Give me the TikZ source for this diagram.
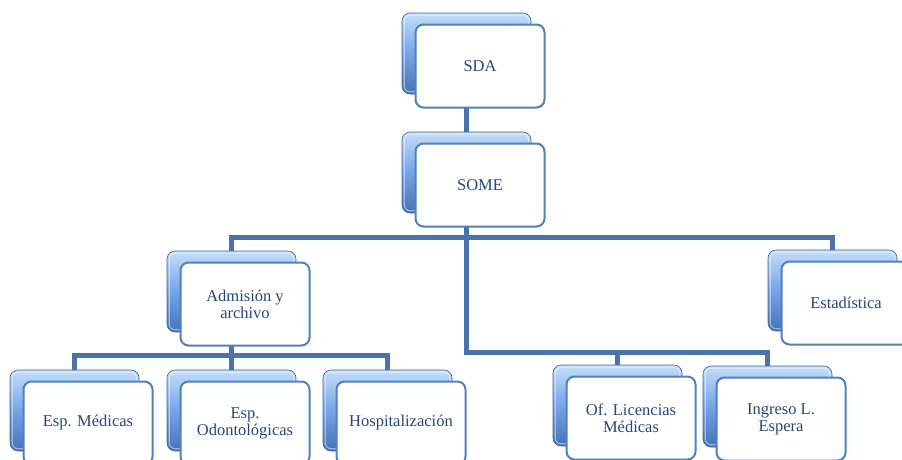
\documentclass[tikz,border=0pt]{standalone}
\usepackage{fontspec}
\setmainfont{Liberation Serif}
\usetikzlibrary{calc,backgrounds}
\definecolor{linkblue}{RGB}{74,114,172}
\definecolor{frameblue}{RGB}{79,129,189}
\definecolor{textblue}{RGB}{40,70,120}
\definecolor{bevtop}{RGB}{196,222,250}
\definecolor{bevmid}{RGB}{118,164,230}
\definecolor{bevbot}{RGB}{70,114,184}
\begin{document}
\begin{tikzpicture}[x=1pt,y=-1pt,
  backbox/.style={rectangle, rounded corners=8pt, minimum width=129pt,
    minimum height=81pt, inner sep=0pt, draw=bevbot!85!black, line width=0.6pt,
    top color=bevtop, bottom color=bevbot, middle color=bevmid},
  bevel/.style={draw=white, draw opacity=0.45, line width=1.2pt, rounded corners=6pt},
  frontbox/.style={rectangle, rounded corners=8pt, minimum width=129pt,
    minimum height=83pt, inner sep=0pt, fill=white, draw=frameblue,
    line width=2pt, text=textblue, align=center,
    font=\fontsize{16.5}{17}\selectfont},
  link/.style={draw=linkblue, line width=5pt}]
\useasboundingbox (0,0) rectangle (902,459);
\clip (0,0) rectangle (902,459);
% unit: one shaded card behind, one white card in front
\newcommand{\orgunit}[3]{%
  \node[backbox] (#1B) at #2 {};
  \draw[bevel] ($(#1B.north west)+(2.5,2.5)$) rectangle ($(#1B.south east)+(-2.5,-2.5)$);
  \node[frontbox] (#1) at ($(#1B)+(13.5,12.5)$) {#3};}
\orgunit{sda}{(466.5,53.5)}{SDA}
\orgunit{some}{(466.5,172.5)}{SOME}
\orgunit{adm}{(231.5,291.5)}{Admisión y\\archivo}
\orgunit{est}{(832.5,290.5)}{Estadística}
\orgunit{espm}{(74.5,410.5)}{Esp. Médicas}
\orgunit{espo}{(231.5,410.5)}{Esp.\\Odontológicas}
\orgunit{hosp}{(387.5,410.5)}{Hospitalización}
\orgunit{ofl}{(617.5,405.5)}{Of. Licencias\\Médicas}
\orgunit{ing}{(767.5,406.5)}{Ingreso L.\\Espera}
\begin{scope}[on background layer]
  \draw[link] (sdaB.south) -- (someB.north);
  \draw[link] (admB.north) -- ++(0,-13.5) -| (estB.north);
  \draw[link] (someB.south) |- ($(ingB.north)+(0,-13)$) -- (ingB.north);
  \draw[link] (oflB.north) -- ++(0,-12);
  \draw[link] (espmB.north) -- ++(0,-14) -| (hospB.north);
  \draw[link] (admB.south) -- (espoB.north);
\end{scope}
\end{tikzpicture}
\end{document}
